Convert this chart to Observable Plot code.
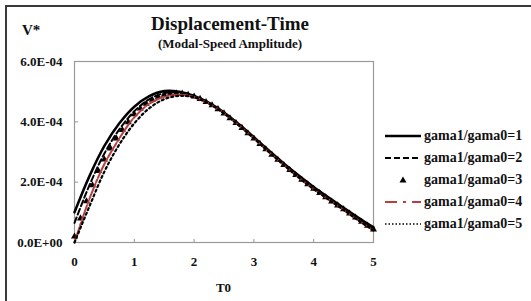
<!DOCTYPE html>
<html><head><meta charset="utf-8">
<script src="https://cdn.jsdelivr.net/npm/d3@7"></script>
<script src="https://cdn.jsdelivr.net/npm/@observablehq/plot@0.6"></script>
<style>
body{margin:0;background:#fff;}
#wrap{position:relative;width:531px;height:301px;overflow:hidden;font-family:"Liberation Serif","Times New Roman",serif;font-weight:bold;color:#111;}
#border{position:absolute;left:5px;top:5px;width:600px;height:400px;border:2px solid #3a3a3a;}
#chart{position:absolute;left:0;top:0;}
.t{position:absolute;white-space:nowrap;line-height:1;}
#title{left:0;width:460px;text-align:center;top:14px;font-size:19px;}
#sub{left:0;width:460px;text-align:center;top:37px;font-size:13px;}
#vlab{left:22px;top:23px;font-size:15px;}
#xlab{left:0;width:447px;text-align:center;top:281px;font-size:13px;}
#legend{position:absolute;left:384px;top:125px;}
.row{display:flex;align-items:center;height:22px;}
.row svg{width:38px;height:12px;margin-right:2px;}
.row span{font-size:14px;}
</style></head>
<body>
<div id="wrap">
  <div id="border"></div>
  <div id="chart"></div>
  <div class="t" id="title">Displacement-Time</div>
  <div class="t" id="sub">(Modal-Speed Amplitude)</div>
  <div class="t" id="vlab">V*</div>
  <div class="t" id="xlab">T0</div>
  <div id="legend"></div>
</div>
<script>
// Time grid (T0) for the line series, values in units of 1e-4
const T = [0,0.25,0.5,0.75,1,1.25,1.5,1.75,2,2.25,2.5,2.75,3,3.25,3.5,3.75,4,4.25,4.5,4.75,5];
const gamma1 = [1.00,2.20,3.20,3.95,4.50,4.85,5.02,5.00,4.86,4.63,4.31,3.92,3.49,3.05,2.62,2.22,1.84,1.49,1.15,0.82,0.50];
const gamma2 = [0.65,1.90,2.95,3.75,4.35,4.75,4.95,4.97,4.85,4.62,4.29,3.89,3.46,3.01,2.58,2.17,1.79,1.44,1.11,0.77,0.44];
const gamma4 = [0.00,1.45,2.60,3.45,4.15,4.60,4.83,4.90,4.82,4.60,4.28,3.88,3.45,3.00,2.57,2.15,1.77,1.42,1.08,0.73,0.40];
const gamma5 = [0.00,1.20,2.35,3.25,3.95,4.45,4.75,4.86,4.81,4.60,4.28,3.88,3.45,3.00,2.57,2.15,1.77,1.42,1.08,0.73,0.40];
// Marker series (gama1/gama0=3) on a finer time grid
const Tm = [0,0.1,0.2,0.3,0.4,0.5,0.6,0.7,0.8,0.9,1,1.1,1.2,1.3,1.4,1.5,1.6,1.7,1.8,1.9,2,2.1,2.2,2.3,2.4,2.5,2.6,2.7,2.8,2.9,3,3.1,3.2,3.3,3.4,3.5,3.6,3.7,3.8,3.9,4,4.1,4.2,4.3,4.4,4.5,4.6,4.7,4.8,4.9,5];
const gamma3 = [0.20,0.80,1.37,1.90,2.37,2.75,3.12,3.45,3.73,3.99,4.25,4.44,4.60,4.73,4.83,4.90,4.93,4.95,4.94,4.90,4.84,4.76,4.66,4.55,4.42,4.28,4.12,3.96,3.80,3.62,3.45,3.27,3.09,2.91,2.74,2.57,2.40,2.24,2.08,1.93,1.78,1.64,1.50,1.36,1.23,1.10,0.96,0.83,0.69,0.56,0.43];
const xTicks = [0,1,2,3,4,5];
const yTicks = [0,2e-4,4e-4,6e-4];
const labels = ["gama1/gama0=1","gama1/gama0=2","gama1/gama0=3","gama1/gama0=4","gama1/gama0=5"];

const scale = 1e-4;
const mk = (arr, xs) => arr.map((v, i) => ({t: xs[i], v: v * scale}));
const d1 = mk(gamma1, T), d2 = mk(gamma2, T), d3 = mk(gamma3, Tm), d4 = mk(gamma4, T), d5 = mk(gamma5, T);

const fmtY = v => {
  const [m, e] = v.toExponential(1).split("e");
  const n = parseInt(e, 10);
  return m.toUpperCase() + "E" + (n < 0 ? "-" : "+") + String(Math.abs(n)).padStart(2, "0");
};

const red = "#b5403d";
const plot = Plot.plot({
  width: 531, height: 301,
  marginLeft: 74, marginRight: 158, marginTop: 61, marginBottom: 59,
  style: {fontFamily: '"Liberation Serif", serif', fontWeight: "bold", fontSize: "13px", color: "#111", background: "transparent"},
  x: {domain: [0, 5]},
  y: {domain: [0, 6e-4]},
  marks: [
    Plot.frame({stroke: "#999", strokeWidth: 1.2}),
    Plot.axisX(xTicks, {tickSize: 0, tickPadding: 14, label: null, fontSize: 13}),
    Plot.axisY(yTicks, {tickSize: 0, tickPadding: 12, tickFormat: fmtY, label: null, fontSize: 13}),
    Plot.ruleX(xTicks, {x: d => d, y1: 0, y2: 1e-5, stroke: "#999"}),
    Plot.ruleY(yTicks, {y: d => d, x1: 0, x2: 0.07, stroke: "#999"}),
    Plot.line(d1, {x: "t", y: "v", stroke: "#000", strokeWidth: 2.5, curve: "catmull-rom"}),
    Plot.line(d2, {x: "t", y: "v", stroke: "#000", strokeWidth: 2, strokeDasharray: "6,3", curve: "catmull-rom"}),
    Plot.dot(d3, {x: "t", y: "v", symbol: "triangle", r: 2.6, fill: "#000", stroke: "none"}),
    Plot.line(d4, {x: "t", y: "v", stroke: red, strokeWidth: 2, strokeDasharray: "16,2,3,2", curve: "catmull-rom"}),
    Plot.line(d5, {x: "t", y: "v", stroke: "#000", strokeWidth: 2.2, strokeDasharray: "2,3", curve: "catmull-rom"})
  ]
});
document.getElementById("chart").appendChild(plot);

// Legend
const sw = [
  '<line x1="1" y1="6" x2="37" y2="6" stroke="#000" stroke-width="2.4"/>',
  '<line x1="1" y1="6" x2="37" y2="6" stroke="#000" stroke-width="2" stroke-dasharray="6,3"/>',
  '<path d="M19,2.5 L22.5,8.5 L15.5,8.5 Z" fill="#000"/>',
  '<line x1="1" y1="6" x2="37" y2="6" stroke="' + red + '" stroke-width="2" stroke-dasharray="12,6,3,6"/>',
  '<line x1="1" y1="6" x2="37" y2="6" stroke="#000" stroke-width="1.6" stroke-dasharray="1.5,2"/>'
];
const lg = document.getElementById("legend");
labels.forEach((l, i) => {
  const r = document.createElement("div");
  r.className = "row";
  r.innerHTML = '<svg viewBox="0 0 38 12">' + sw[i] + '</svg><span>' + l + '</span>';
  lg.appendChild(r);
});
</script>
</body></html>
